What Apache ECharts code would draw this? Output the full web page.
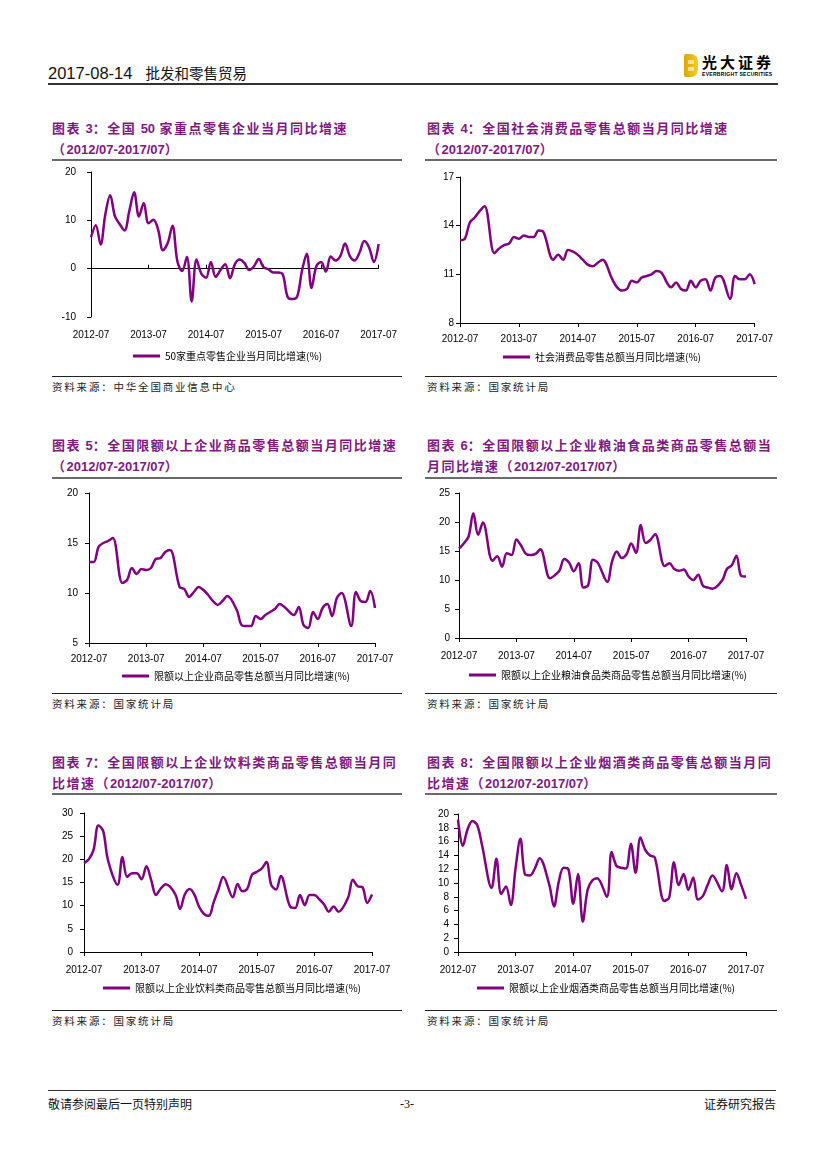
<!DOCTYPE html>
<html><head><meta charset="utf-8">
<script src="https://cdn.jsdelivr.net/npm/echarts@6/dist/echarts.min.js"></script>
<style>
html,body{margin:0;padding:0;background:#fff;}
body{width:827px;height:1169px;position:relative;overflow:hidden;font-family:"Noto Sans CJK SC",sans-serif;color:#000;}
.abs{position:absolute;}
.title{position:absolute;font-size:13px;font-weight:bold;color:#80197f;line-height:20px;letter-spacing:1.5px;white-space:nowrap;}
.title .n{font-family:"Liberation Sans",Arial,sans-serif;letter-spacing:0;}
.trule{position:absolute;height:2px;background:#6a6a6a;}
.srule{position:absolute;height:1px;background:#222;}
.src{position:absolute;font-size:10.5px;letter-spacing:1.8px;color:#222;line-height:14px;white-space:nowrap;}
.chart{position:absolute;height:212px;}
</style></head><body>

<!-- header -->
<div class="abs" style="left:48px;top:62px;font-size:16.5px;line-height:20px;white-space:nowrap;color:#111;">
<span style="font-family:'Liberation Sans',Arial,sans-serif;">2017-08-14</span><span style="display:inline-block;width:13px"></span><span style="font-size:14.5px;">批发和零售贸易</span></div>
<div class="abs" style="left:684px;top:54px;width:14px;height:23px;border-radius:2px 7px 7px 2px;background:linear-gradient(90deg,#d9a800,#f5cc2a);"></div>
<div class="abs" style="left:688px;top:60px;width:6px;height:4px;background:#fff;opacity:0.55;"></div>
<div class="abs" style="left:688px;top:67px;width:6px;height:4px;background:#fff;opacity:0.55;"></div>
<div class="abs" style="left:702px;top:53px;font-size:15px;font-weight:bold;letter-spacing:3px;line-height:18px;white-space:nowrap;">光大证券</div>
<div class="abs" style="left:702px;top:71px;font-size:5px;font-weight:bold;line-height:6px;white-space:nowrap;font-family:'Liberation Sans',Arial,sans-serif;letter-spacing:0.3px;">EVERBRIGHT SECURITIES</div>
<div class="abs" style="left:48px;top:83px;width:730px;height:1.5px;background:#333;"></div>

<!-- titles -->
<div class="title" style="left:52px;top:118px;">图表 <span class="n">3</span>：全国 <span class="n">50</span> 家重点零售企业当月同比增速<br>（<span class="n">2012/07-2017/07</span>）</div>
<div class="title" style="left:427px;top:118px;">图表 <span class="n">4</span>：全国社会消费品零售总额当月同比增速<br>（<span class="n">2012/07-2017/07</span>）</div>
<div class="title" style="left:52px;top:435px;">图表 <span class="n">5</span>：全国限额以上企业商品零售总额当月同比增速<br>（<span class="n">2012/07-2017/07</span>）</div>
<div class="title" style="left:427px;top:435px;">图表 <span class="n">6</span>：全国限额以上企业粮油食品类商品零售总额当<br>月同比增速（<span class="n">2012/07-2017/07</span>）</div>
<div class="title" style="left:52px;top:752px;">图表 <span class="n">7</span>：全国限额以上企业饮料类商品零售总额当月同<br>比增速（<span class="n">2012/07-2017/07</span>）</div>
<div class="title" style="left:427px;top:752px;">图表 <span class="n">8</span>：全国限额以上企业烟酒类商品零售总额当月同<br>比增速（<span class="n">2012/07-2017/07</span>）</div>

<div class="trule" style="left:52px;top:159px;width:350px;"></div>
<div class="trule" style="left:425px;top:159px;width:352px;"></div>
<div class="trule" style="left:52px;top:477px;width:350px;"></div>
<div class="trule" style="left:425px;top:477px;width:352px;"></div>
<div class="trule" style="left:52px;top:793px;width:350px;"></div>
<div class="trule" style="left:425px;top:793px;width:352px;"></div>

<!-- charts -->
<div id="c3" class="chart" style="left:48px;top:163px;width:352px;"></div>
<div id="c4" class="chart" style="left:423px;top:163px;width:353px;"></div>
<div id="c5" class="chart" style="left:48px;top:481px;width:352px;"></div>
<div id="c6" class="chart" style="left:423px;top:481px;width:353px;"></div>
<div id="c7" class="chart" style="left:48px;top:797px;width:352px;"></div>
<div id="c8" class="chart" style="left:423px;top:797px;width:353px;"></div>

<!-- sources -->
<div class="srule" style="left:52px;top:376px;width:350px;"></div>
<div class="srule" style="left:425px;top:376px;width:352px;"></div>
<div class="srule" style="left:52px;top:693px;width:350px;"></div>
<div class="srule" style="left:425px;top:693px;width:352px;"></div>
<div class="srule" style="left:52px;top:1010px;width:350px;"></div>
<div class="srule" style="left:425px;top:1010px;width:352px;"></div>
<div class="src" style="left:52px;top:380px;">资料来源：中华全国商业信息中心</div>
<div class="src" style="left:427px;top:380px;">资料来源：国家统计局</div>
<div class="src" style="left:52px;top:697px;">资料来源：国家统计局</div>
<div class="src" style="left:427px;top:697px;">资料来源：国家统计局</div>
<div class="src" style="left:52px;top:1014px;">资料来源：国家统计局</div>
<div class="src" style="left:427px;top:1014px;">资料来源：国家统计局</div>

<!-- footer -->
<div class="abs" style="left:48px;top:1090px;width:728px;height:1px;background:#333;"></div>
<div class="abs" style="left:48px;top:1096px;font-size:12px;line-height:16px;white-space:nowrap;color:#111;">敬请参阅最后一页特别声明</div>
<div class="abs" style="left:400px;top:1096px;font-size:12px;line-height:16px;white-space:nowrap;font-family:'Liberation Serif',serif;color:#111;">-3-</div>
<div class="abs" style="left:700px;top:1096px;width:76px;text-align:right;font-size:12px;line-height:16px;white-space:nowrap;color:#111;">证券研究报告</div>

<script>
// ---- data ----
const months = [
"2012-07","2012-08","2012-09","2012-10","2012-11","2012-12",
"2013-01","2013-02","2013-03","2013-04","2013-05","2013-06","2013-07","2013-08","2013-09","2013-10","2013-11","2013-12",
"2014-01","2014-02","2014-03","2014-04","2014-05","2014-06","2014-07","2014-08","2014-09","2014-10","2014-11","2014-12",
"2015-01","2015-02","2015-03","2015-04","2015-05","2015-06","2015-07","2015-08","2015-09","2015-10","2015-11","2015-12",
"2016-01","2016-02","2016-03","2016-04","2016-05","2016-06","2016-07","2016-08","2016-09","2016-10","2016-11","2016-12",
"2017-01","2017-02","2017-03","2017-04","2017-05","2017-06","2017-07"];

const s3 = [6.5,9.0,5.0,11.3,15.2,10.8,9.2,7.9,12.0,15.8,10.8,13.6,9.4,10.1,8.1,3.8,5.3,8.9,1.6,-0.5,
2.4,-6.8,1.9,-1.0,-1.9,1.4,-1.7,-0.3,0.9,-2.0,0.9,1.9,1.2,-0.3,0.5,2.0,0.3,-0.1,-0.8,-0.8,
-1.2,-5.8,-6.3,-5.8,-0.5,3.1,-4.0,0.5,1.4,-0.6,2.5,1.7,2.6,5.2,2.6,1.7,3.3,5.7,4.4,1.4,5.1];

const s4 = [13.1,13.2,14.2,14.5,14.9,15.2,null,12.3,12.6,12.8,12.9,13.3,13.2,13.4,13.3,13.3,13.7,13.6,
null,11.9,12.2,11.9,12.5,12.4,12.2,11.9,11.6,11.5,11.7,11.9,
null,10.7,10.2,10.0,10.1,10.6,10.5,10.8,10.9,11.0,11.2,11.1,
null,10.2,10.5,10.1,10.0,10.6,10.2,10.6,10.7,10.0,10.8,10.9,
null,9.5,10.9,10.7,10.7,11.0,10.4];

const s5 = [13.1,13.1,14.6,15.0,15.2,15.5,null,11.0,11.3,12.5,11.9,12.4,12.3,12.5,13.4,13.5,14.1,14.3,
null,10.6,10.4,9.6,10.1,10.6,10.3,9.8,9.2,8.8,9.2,9.7,
null,8.3,6.8,6.7,6.7,7.7,7.4,7.8,8.1,8.4,8.9,8.6,
null,7.8,8.6,6.8,6.5,8.1,7.4,8.5,8.9,7.7,9.5,10.0,
null,6.7,10.1,9.2,9.1,10.2,8.5];

const s6 = [15.4,16.3,17.5,21.5,17.8,19.9,null,13.3,14.1,12.3,14.6,14.3,17.0,15.9,14.5,14.3,14.5,15.3,
null,10.3,10.8,11.6,13.6,13.0,11.5,12.9,8.7,9.1,13.5,13.0,
null,9.7,13.2,14.9,13.8,14.4,16.3,14.7,19.5,16.4,16.9,17.9,
null,12.4,12.9,11.9,11.6,11.8,10.6,10.0,10.9,9.0,8.7,8.5,
null,9.9,11.9,12.5,14.2,10.7,10.6];

const s7 = [19.2,20.0,22.1,27.3,26.1,19.8,null,14.5,20.5,16.2,17.0,17.0,15.7,18.5,15.5,12.3,13.7,14.6,
null,12.5,9.3,12.4,13.6,12.4,9.7,8.2,7.8,10.7,13.5,16.2,
null,11.8,14.7,13.1,13.6,16.7,17.3,18.0,19.4,14.5,13.5,16.4,
null,9.7,9.5,12.3,10.1,12.3,12.3,11.4,10.3,8.7,9.8,8.7,
null,11.7,15.6,14.2,14.0,10.6,12.4];

const s8 = [19.2,15.4,17.8,19.0,18.4,15.5,null,9.3,13.5,8.4,9.5,6.8,12.2,16.4,11.2,11.1,12.1,13.6,
null,9.8,6.6,10.2,12.2,12.0,7.0,11.3,4.4,9.0,10.4,10.7,
null,8.0,14.5,12.5,12.2,12.1,15.7,11.5,16.6,14.8,14.0,13.7,
null,7.4,7.9,13.0,9.7,11.3,9.0,10.8,7.6,8.1,9.7,11.1,
null,8.8,12.6,9.1,11.4,9.7,7.7];

const names = {
  c3:"50家重点零售企业当月同比增速(%)",
  c4:"社会消费品零售总额当月同比增速(%)",
  c5:"限额以上企业商品零售总额当月同比增速(%)",
  c6:"限额以上企业粮油食品类商品零售总额当月同比增速(%)",
  c7:"限额以上企业饮料类商品零售总额当月同比增速(%)",
  c8:"限额以上企业烟酒类商品零售总额当月同比增速(%)"
};

const yRange = {
  c3:[-10,20,10], c4:[8,17,3], c5:[5,20,5], c6:[0,25,5], c7:[0,30,5], c8:[0,20,2]
};

// ---- layout (pixels inside each chart box) ----
const layout = {
  c3:{grid:[43,9,291,145], xm:13, ym:15, leg:[85,188]},
  c4:{grid:[37,14,297,146], xm:11, ym:6,  leg:[80,189]},
  c5:{grid:[41,12,286,150], xm:11, ym:11, leg:[74,190]},
  c6:{grid:[36,12,287,145], xm:13, ym:9,  leg:[46,189]},
  c7:{grid:[36,16,288,139], xm:13, ym:11, leg:[55,186]},
  c8:{grid:[35,17,288,138], xm:13, ym:9,  leg:[54,186]}
};

const PURPLE = '#800080';
const LATIN = "'Liberation Sans', Arial, sans-serif";

function build(id, data, zeroAxis) {
  const L = layout[id], R = yRange[id];
  const chart = echarts.init(document.getElementById(id), null, {renderer:'canvas'});
  const xAxisMain = {
    type:'category', data:months, boundaryGap:false, position:'bottom',
    axisLine:{show:!zeroAxis, onZero:false, lineStyle:{color:'#000', width:1}},
    axisTick:{show:!zeroAxis, interval:11, length:4, lineStyle:{color:'#000'}},
    axisLabel:{interval:11, margin:L.xm, color:'#000', fontSize:10, fontFamily:LATIN},
    splitLine:{show:false}
  };
  const xAxes = [xAxisMain];
  if (zeroAxis) {
    xAxes.push({
      type:'category', data:months, boundaryGap:false, position:'bottom',
      axisLine:{show:true, onZero:true, lineStyle:{color:'#000', width:1}},
      axisTick:{show:true, inside:true, interval:11, length:4, lineStyle:{color:'#000'}},
      axisLabel:{show:false}, splitLine:{show:false}
    });
  }
  chart.setOption({
    animation:false,
    grid:{left:L.grid[0], top:L.grid[1], width:L.grid[2], height:L.grid[3], containLabel:false},
    legend:{
      left:L.leg[0], top:L.leg[1], padding:0, icon:'rect', itemWidth:27, itemHeight:3,
      textStyle:{fontSize:10, color:'#000', fontFamily:"'Noto Sans CJK SC', sans-serif"},
      data:[names[id]]
    },
    xAxis:xAxes,
    yAxis:{
      type:'value', min:R[0], max:R[1], interval:R[2],
      axisLine:{show:true, lineStyle:{color:'#000', width:1}},
      axisTick:{show:true, length:4, lineStyle:{color:'#000'}},
      axisLabel:{margin:L.ym, color:'#000', fontSize:10, fontFamily:LATIN},
      splitLine:{show:false}
    },
    series:[{
      type:'line', name:names[id], data:data, xAxisIndex:0,
      smooth:0.35, showSymbol:false, symbol:'none', connectNulls:true,
      lineStyle:{color:PURPLE, width:2.5}, itemStyle:{color:PURPLE}
    }]
  });
}

build('c3', s3, true);
build('c4', s4, false);
build('c5', s5, false);
build('c6', s6, false);
build('c7', s7, false);
build('c8', s8, false);
</script>
</body></html>
